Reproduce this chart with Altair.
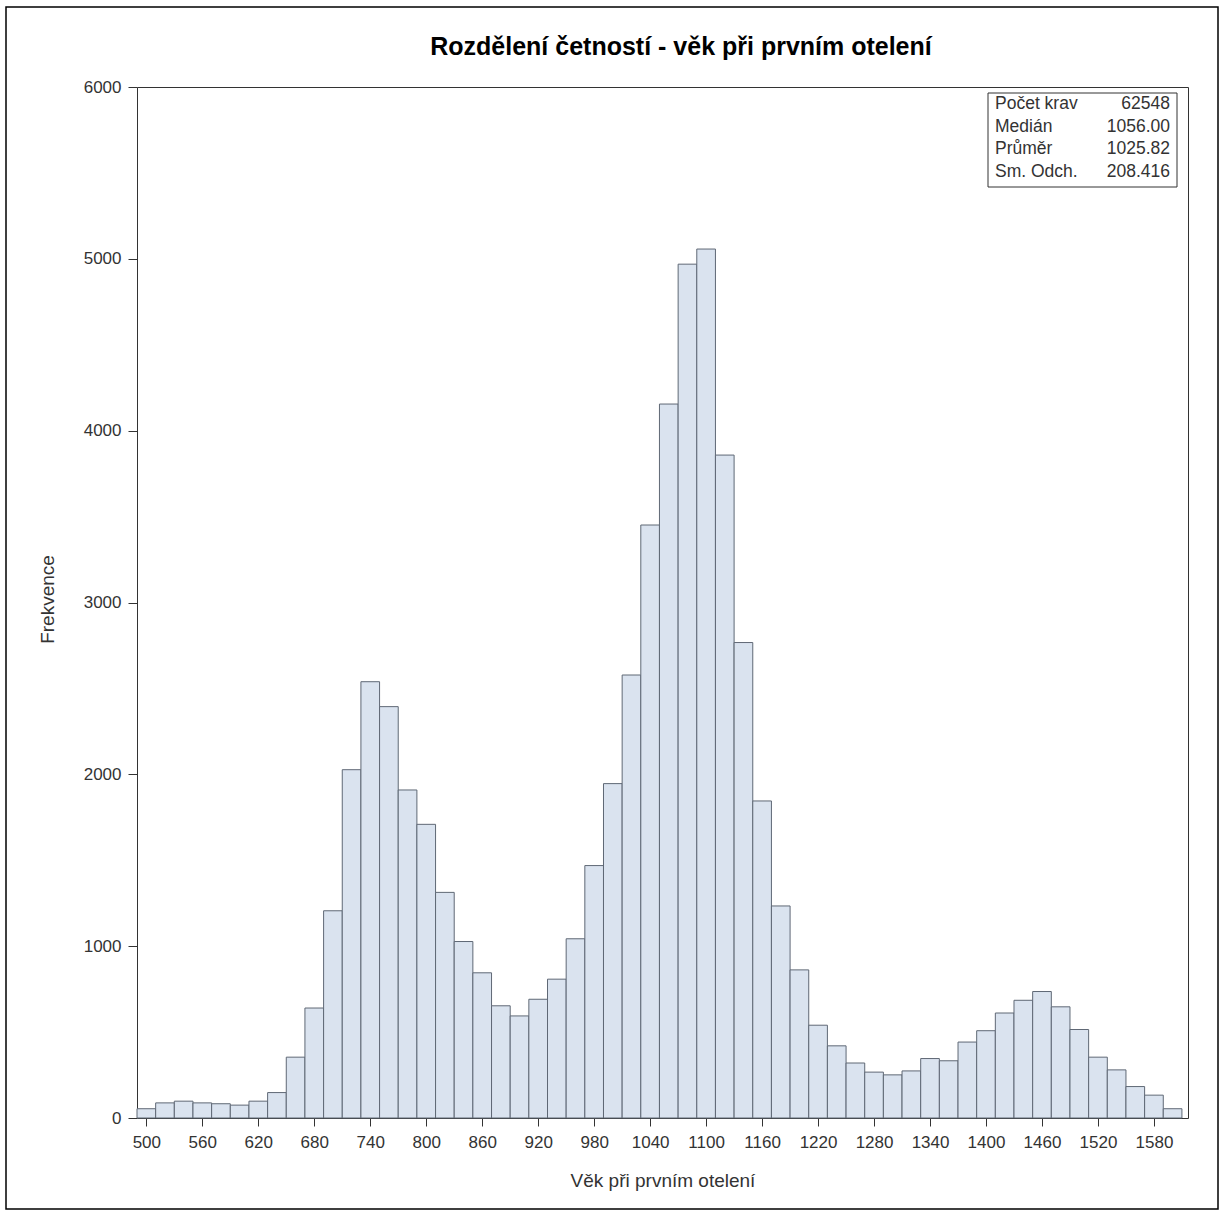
import altair as alt
import pandas as pd

# ---- data ----
bin_centers = list(range(500, 1601, 20))
counts = [54, 88, 98, 88, 83, 75, 98, 148, 354, 640,
          1206, 2027, 2539, 2394, 1909, 1709, 1313, 1027, 845, 653,
          594, 691, 808, 1043, 1469, 1946, 2578, 3451, 4155, 4969,
          5057, 3858, 2767, 1845, 1234, 862, 540, 420, 320, 267,
          251, 274, 346, 333, 442, 508, 611, 685, 736, 647,
          515, 354, 280, 183, 133, 54]
x_ticks = list(range(500, 1581, 60))
y_ticks = list(range(0, 6001, 1000))
stat_labels = ["Počet krav", "Medián", "Průměr", "Sm. Odch."]
stat_values = ["62548", "1056.00", "1025.82", "208.416"]
title_text = "Rozdělení četností - věk při prvním otelení"

assert len(bin_centers) == len(counts)

FONT = "Liberation Sans"
W, H = 1051, 1031

df = pd.DataFrame({"center": bin_centers, "count": counts})
df["lo"] = df["center"] - 10
df["hi"] = df["center"] + 10

bars = alt.Chart(df).mark_bar(
    fill="#DAE3EF", stroke="#5F6875", strokeWidth=1
).encode(
    x=alt.X("lo:Q",
            scale=alt.Scale(domain=[490, 1616.5], nice=False, zero=False),
            axis=alt.Axis(values=x_ticks, title="Věk při prvním otelení", format="d",
                          domain=False, grid=False, tickSize=8, tickColor="#333333",
                          labelPadding=8, labelFontSize=17, labelFont=FONT,
                          labelColor="#333333", titleFont=FONT, titleFontSize=19,
                          titleFontWeight="normal", titleColor="#333333",
                          titleY=62, titleBaseline="middle")),
    x2="hi:Q",
    y=alt.Y("count:Q",
            scale=alt.Scale(domain=[0, 6000], nice=False),
            axis=alt.Axis(values=y_ticks, title="Frekvence", format="d",
                          domain=False, grid=False, tickSize=9, tickColor="#333333",
                          labelPadding=7, labelFontSize=17, labelFont=FONT,
                          labelColor="#333333", titleFont=FONT, titleFontSize=19,
                          titleFontWeight="normal", titleColor="#333333",
                          titleX=-90, titleY=512, titleBaseline="middle")),
    y2=alt.datum(0),
)

one = pd.DataFrame({"k": [0]})

stats_box = alt.Chart(one).mark_rect(
    fill="white", stroke="#333333", strokeWidth=1
).encode(x=alt.value(851), x2=alt.value(1040), y=alt.value(6), y2=alt.value(100))

stats_df = pd.DataFrame({"labels": ["\n".join(stat_labels)],
                         "values": ["\n".join(stat_values)]})

stats_lab = alt.Chart(stats_df).mark_text(
    align="left", baseline="middle", lineBreak="\n", lineHeight=22.5,
    fontSize=17.5, font=FONT, color="#333333"
).encode(x=alt.value(858), y=alt.value(17), text="labels:N")

stats_val = alt.Chart(stats_df).mark_text(
    align="right", baseline="middle", lineBreak="\n", lineHeight=22.5,
    fontSize=17.5, font=FONT, color="#333333"
).encode(x=alt.value(1033), y=alt.value(17), text="values:N")

title_df = pd.DataFrame({"t": [title_text]})
title = alt.Chart(title_df).mark_text(
    align="center", baseline="middle", fontSize=25, fontWeight="bold",
    font=FONT, color="black"
).encode(x=alt.value(544), y=alt.value(-40), text="t:N")

outer = alt.Chart(one).mark_rect(
    fillOpacity=0, stroke="black", strokeWidth=1.5
).encode(x=alt.value(-131), x2=alt.value(1081), y=alt.value(-80), y2=alt.value(1122))

chart = alt.layer(bars, stats_box, stats_lab, stats_val, title, outer).properties(
    width=W, height=H,
    autosize=alt.AutoSizeParams(type="none"),
    padding={"left": 137, "top": 87, "right": 36, "bottom": 93},
    background="white",
).configure_view(stroke="#333333", strokeWidth=1)

chart.save("out.html", embed_options={"renderer": "svg", "actions": False})
